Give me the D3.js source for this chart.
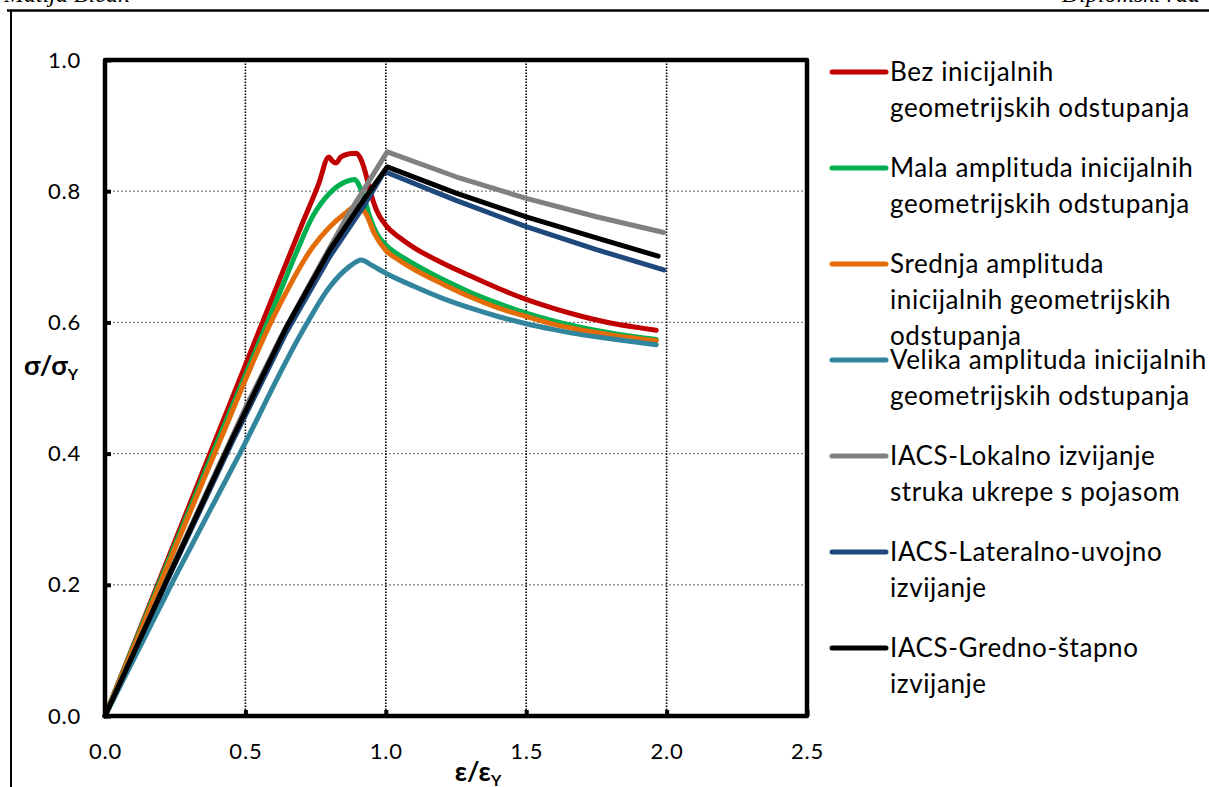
<!DOCTYPE html>
<html lang="hr">
<head>
  <meta charset="UTF-8">
  <title>σ/σY - ε/εY</title>
  <script src="https://d3js.org/d3.v7.min.js"></script>
  <style>
    body { margin: 0; background: #fff; }
    svg { display: block; font-family: Lato, "Open Sans", sans-serif; }
    .tick text { font-size: 22px; letter-spacing: 0.8px; fill: #000; }
    .legend text { font-size: 26px; letter-spacing: 0.6px; fill: #000; }
    .title { font-size: 27px; font-weight: bold; fill: #000; }
    .header { font-family: "Liberation Serif", "DejaVu Serif", serif; font-style: italic; font-size: 24px; }
  </style>
</head>
<body>
<script>
// x = ε/εY, y = σ/σY
const bezX = [0, 0.2, 0.4, 0.6, 0.7, 0.76, 0.797, 0.81, 0.822, 0.84, 0.87, 0.895, 0.91, 0.925, 0.943, 0.967, 1.0, 1.05, 1.1, 1.2, 1.3, 1.4, 1.5, 1.6, 1.7, 1.8, 1.9, 1.963];
const bezY = [0, 0.214, 0.428, 0.642, 0.748, 0.81, 0.852, 0.846, 0.843, 0.852, 0.857, 0.858, 0.85, 0.832, 0.802, 0.771, 0.748, 0.729, 0.714, 0.691, 0.671, 0.652, 0.635, 0.621, 0.609, 0.599, 0.592, 0.588];

const malaX = [0, 0.2, 0.4, 0.6, 0.68, 0.74, 0.8, 0.86, 0.89, 0.907, 0.925, 0.943, 0.967, 1.0, 1.05, 1.1, 1.2, 1.3, 1.4, 1.5, 1.6, 1.7, 1.8, 1.963];
const malaY = [0, 0.21, 0.418, 0.622, 0.705, 0.762, 0.797, 0.815, 0.818, 0.807, 0.787, 0.761, 0.736, 0.718, 0.702, 0.689, 0.666, 0.646, 0.629, 0.614, 0.602, 0.592, 0.584, 0.574];

const srednjaX = [0, 0.2, 0.4, 0.6, 0.74, 0.86, 0.895, 0.93, 0.96, 1.0, 1.05, 1.1, 1.2, 1.3, 1.4, 1.5, 1.6, 1.7, 1.8, 1.963];
const srednjaY = [0, 0.205, 0.41, 0.608, 0.715, 0.768, 0.778, 0.765, 0.735, 0.71, 0.694, 0.681, 0.659, 0.639, 0.622, 0.609, 0.597, 0.588, 0.581, 0.572];

const velikaX = [0, 0.25, 0.48, 0.705, 0.8, 0.87, 0.913, 0.95, 1.0, 1.1, 1.2, 1.3, 1.4, 1.5, 1.6, 1.7, 1.8, 1.963];
const velikaY = [0, 0.212, 0.4, 0.588, 0.654, 0.685, 0.695, 0.687, 0.675, 0.655, 0.637, 0.622, 0.609, 0.598, 0.589, 0.581, 0.575, 0.566];

const lokalnoX = [0, 0.25, 0.5, 0.623, 0.75, 0.86, 1.005, 1.25, 1.5, 1.75, 1.99];
const lokalnoY = [0, 0.237, 0.47, 0.575, 0.675, 0.76, 0.86, 0.822, 0.789, 0.761, 0.737];

const lateralnoX = [0, 0.22, 0.45, 0.646, 0.8, 0.918, 0.995, 1.25, 1.5, 1.75, 1.99];
const lateralnoY = [0, 0.205, 0.415, 0.585, 0.7, 0.775, 0.83, 0.786, 0.746, 0.711, 0.68];

const grednoX = [0, 0.22, 0.45, 0.646, 0.8, 0.918, 1.005, 1.25, 1.5, 1.75, 1.97];
const grednoY = [0, 0.207, 0.42, 0.593, 0.71, 0.785, 0.837, 0.797, 0.761, 0.729, 0.701];

const seriesNames = [
  ["Bez inicijalnih", "geometrijskih odstupanja"],
  ["Mala amplituda inicijalnih", "geometrijskih odstupanja"],
  ["Srednja amplituda", "inicijalnih geometrijskih", "odstupanja"],
  ["Velika amplituda inicijalnih", "geometrijskih odstupanja"],
  ["IACS-Lokalno izvijanje", "struka ukrepe s pojasom"],
  ["IACS-Lateralno-uvojno", "izvijanje"],
  ["IACS-Gredno-štapno", "izvijanje"]
];
const seriesColors = ["#c00000", "#00b050", "#e36c09", "#31859c", "#808080", "#1f497d", "#000000"];
const xTicks = [0, 0.5, 1.0, 1.5, 2.0, 2.5];
const yTicks = [0, 0.2, 0.4, 0.6, 0.8, 1.0];

const series = [
  [bezX, bezY], [malaX, malaY], [srednjaX, srednjaY], [velikaX, velikaY],
  [lokalnoX, lokalnoY], [lateralnoX, lateralnoY], [grednoX, grednoY]
].map(([xs, ys], i) => ({
  name: seriesNames[i],
  color: seriesColors[i],
  iacs: i >= 4,
  points: xs.map((v, j) => [v, ys[j]])
}));

const W = 1209, H = 787;
const svg = d3.select("body").append("svg").attr("width", W).attr("height", H);
svg.append("rect").attr("width", W).attr("height", H).attr("fill", "#fff");

// page header (cut off at top)
svg.append("text").attr("class", "header").attr("x", 4).attr("y", 2).text("Matija Bičan");
svg.append("text").attr("class", "header").attr("x", 1062).attr("y", 2).text("Diplomski rad");
svg.append("line").attr("x1", 7).attr("x2", W).attr("y1", 10.5).attr("y2", 10.5)
  .attr("stroke", "#000").attr("stroke-width", 2.5);
svg.append("line").attr("x1", 11).attr("x2", 11).attr("y1", 10).attr("y2", H)
  .attr("stroke", "#000").attr("stroke-width", 2);

const x = d3.scaleLinear().domain([0, 2.5]).range([105, 807]);
const y = d3.scaleLinear().domain([0, 1]).range([716, 60]);

// gridlines
svg.append("g").selectAll("line")
  .data(yTicks.filter(d => d > 0 && d < 1))
  .join("line")
  .attr("x1", x(0)).attr("x2", x(2.5))
  .attr("y1", d => y(d)).attr("y2", d => y(d))
  .attr("stroke", "#7f7f7f").attr("stroke-width", 1.3).attr("stroke-dasharray", "2,2");

svg.append("g").selectAll("line")
  .data(xTicks.filter(d => d > 0 && d < 2.5))
  .join("line")
  .attr("x1", d => x(d)).attr("x2", d => x(d))
  .attr("y1", y(0)).attr("y2", y(1))
  .attr("stroke", "#000").attr("stroke-width", 1.6).attr("stroke-dasharray", "1.5,1.5");

// axes
const xAxis = svg.append("g").attr("transform", `translate(0,${y(0)})`)
  .call(d3.axisBottom(x).tickValues(xTicks).tickFormat(d3.format(".1f"))
    .tickSizeInner(-6).tickSizeOuter(0).tickPadding(27));
const yAxis = svg.append("g").attr("transform", `translate(${x(0)},0)`)
  .call(d3.axisLeft(y).tickValues(yTicks).tickFormat(d3.format(".1f"))
    .tickSizeInner(-6).tickSizeOuter(0).tickPadding(24));
[xAxis, yAxis].forEach(g => {
  g.attr("font-family", null).attr("font-size", null);
  g.select(".domain").remove();
  g.selectAll(".tick line").attr("stroke", "#000").attr("stroke-width", 4);
});

// curves: measured ones smoothed, IACS ones straight segments
const smooth = d3.line().x(d => x(d[0])).y(d => y(d[1])).curve(d3.curveMonotoneX);
const straight = d3.line().x(d => x(d[0])).y(d => y(d[1]));
svg.append("g").selectAll("path")
  .data(series)
  .join("path")
  .attr("d", d => (d.iacs ? straight : smooth)(d.points))
  .attr("fill", "none")
  .attr("stroke", d => d.color)
  .attr("stroke-width", 5)
  .attr("stroke-linejoin", "round")
  .attr("stroke-linecap", "round");

// plot frame
svg.append("rect")
  .attr("x", x(0)).attr("y", y(1))
  .attr("width", x(2.5) - x(0)).attr("height", y(0) - y(1))
  .attr("fill", "none").attr("stroke", "#000").attr("stroke-width", 4.5)
  .attr("stroke-linejoin", "round");

// axis titles
const yTitle = svg.append("text").attr("class", "title").attr("x", 24).attr("y", 375);
yTitle.append("tspan").text("σ/σ");
yTitle.append("tspan").attr("font-size", 16).attr("dy", 5).text("Y");

const xTitle = svg.append("text").attr("class", "title").attr("x", 478).attr("y", 781)
  .attr("text-anchor", "middle");
xTitle.append("tspan").text("ε/ε");
xTitle.append("tspan").attr("font-size", 16).attr("dy", 5).text("Y");

// legend
const legend = svg.append("g").attr("class", "legend");
const item = legend.selectAll("g")
  .data(series)
  .join("g")
  .attr("transform", (d, i) => `translate(832,${72 + i * 96})`);
item.append("line")
  .attr("x1", 0).attr("x2", 54)
  .attr("stroke", d => d.color).attr("stroke-width", 5).attr("stroke-linecap", "round");
item.append("text")
  .selectAll("tspan")
  .data(d => d.name)
  .join("tspan")
  .attr("x", 58)
  .attr("y", (d, j) => j * 36)
  .attr("dy", "0.35em")
  .text(d => d);
</script>
</body>
</html>
